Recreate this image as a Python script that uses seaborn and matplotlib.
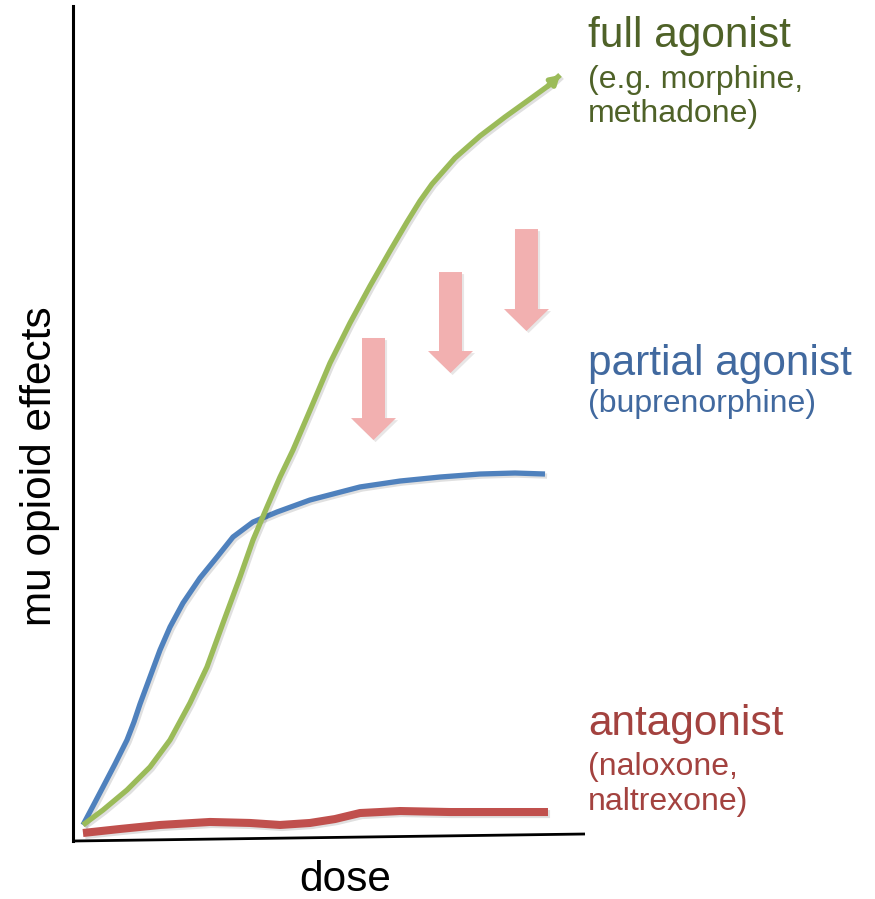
import matplotlib
matplotlib.use("Agg")
import matplotlib.pyplot as plt
import matplotlib.patheffects as pe
import seaborn as sns

# curve readings (dose 0-100 along x, effect 0-100 along y)
full_dose = [1.95, 5.86, 10.55, 15.04, 18.95, 22.85, 26.17, 29.30, 32.62, 35.16, 37.89,
             40.43, 42.97, 46.48, 50.20, 54.10, 58.01, 61.91, 65.23, 67.77, 70.12,
             74.61, 79.49, 84.38, 89.26, 92.77, 95.12]
full_effect = [1.92, 3.71, 6.11, 8.86, 12.10, 16.53, 20.84, 26.11, 31.62, 36.05, 40.00,
               43.59, 46.83, 51.86, 57.25, 62.04, 66.47, 70.66, 74.13, 76.65, 78.68,
               81.80, 84.43, 86.71, 88.86, 90.42, 91.74]

partial_dose = [1.95, 3.91, 5.86, 8.20, 10.55, 11.91, 13.09, 15.04, 16.99, 18.95, 21.48,
                24.80, 28.13, 31.25, 35.16, 39.84, 46.29, 56.05, 63.87, 71.68, 79.49,
                86.33, 92.19]
partial_effect = [1.92, 4.19, 6.47, 9.22, 12.10, 14.25, 16.41, 19.64, 22.87, 25.63, 28.50,
                  31.50, 34.01, 36.41, 38.20, 39.40, 40.84, 42.40, 43.11, 43.59, 43.95,
                  44.07, 43.95]

antag_dose = [1.95, 9.18, 16.99, 26.76, 34.57, 40.43, 46.29, 51.17, 56.05, 63.87, 73.63,
              83.40, 92.77]
antag_effect = [0.96, 1.44, 1.92, 2.28, 2.16, 1.92, 2.16, 2.63, 3.35, 3.59, 3.47, 3.47, 3.47]

# pink "drop" arrows: x, top, bottom
arrow_x = [58.69, 73.73, 88.57]
arrow_top = [60.24, 68.14, 73.29]
arrow_tip = [48.02, 56.05, 61.08]

GREEN, BLUE, RED = "#9BBB59", "#4F81BD", "#C0504D"
FONT = ["Liberation Sans", "DejaVu Sans"]

sns.set_style("white")
plt.rcParams["font.family"] = FONT

fig = plt.figure(figsize=(8.75, 8.99), dpi=100)
W, H = 875, 899
ax = fig.add_axes([73 / W, (H - 841) / H, 512 / W, 835 / H])
ax.set_xlim(0, 100)
ax.set_ylim(0, 100)
ax.set_xticks([])
ax.set_yticks([])
for s in ["top", "right", "bottom"]:
    ax.spines[s].set_visible(False)
ax.spines["left"].set_linewidth(2.2)
ax.spines["left"].set_color("black")
# slightly tilted baseline, as in the sketch
ax.plot([0, 1], [0, 7 / 835], transform=ax.transAxes, color="black", lw=2.0,
        clip_on=False, solid_capstyle="butt")

shadow = [pe.SimpleLineShadow(offset=(1.5, -1.5), alpha=0.12, shadow_color="black"), pe.Normal()]
line_kw = dict(ax=ax, sort=False, estimator=None, solid_capstyle="butt",
               solid_joinstyle="round", path_effects=shadow)

sns.lineplot(x=antag_dose, y=antag_effect, color=RED, lw=5.8, zorder=3, **line_kw)
sns.lineplot(x=partial_dose, y=partial_effect, color=BLUE, lw=3.8, zorder=4, **line_kw)
sns.lineplot(x=full_dose, y=full_effect, color=GREEN, lw=3.8, zorder=5, **line_kw)
ax.annotate("", xy=(full_dose[-1], full_effect[-1]), xytext=(full_dose[-2], full_effect[-2]),
            arrowprops=dict(arrowstyle="-|>,head_length=0.5,head_width=0.3", color=GREEN,
                            lw=3.8, shrinkA=0, shrinkB=0), zorder=6)

for x, top, tip in zip(arrow_x, arrow_top, arrow_tip):
    ax.arrow(x, top, 0, tip - top, width=4.49, head_width=8.79, head_length=2.63,
             length_includes_head=True, color="#F2B0B0", ec="none", zorder=2,
             path_effects=[pe.SimplePatchShadow(offset=(1.5, -1.5), alpha=0.12), pe.Normal()])

# labels
def ftext(px, py, s, size, color, **kw):
    fig.text(px / W, 1 - py / H, s, fontsize=size, color=color, va="baseline", **kw)

ftext(588, 47, "full agonist", 30.5, "#4F6228")
ftext(588, 88, "(e.g. morphine,", 23, "#4F6228")
ftext(588, 122, "methadone)", 23, "#4F6228")

ftext(588, 375, "partial agonist", 30.5, "#41699F")
ftext(588, 412, "(buprenorphine)", 23, "#41699F")

ftext(588, 735, "antagonist", 30.5, "#A3423F")
ftext(588, 775, "(naloxone,", 23, "#A3423F")
ftext(588, 810, "naltrexone)", 23, "#A3423F")

ftext(345, 891, "dose", 30.5, "black", ha="center")
fig.text(40 / W, 1 - 466 / H, "mu opioid effects", fontsize=30.5, color="black",
         rotation=90, ha="center", va="center")

fig.savefig("out.png", dpi=100)
